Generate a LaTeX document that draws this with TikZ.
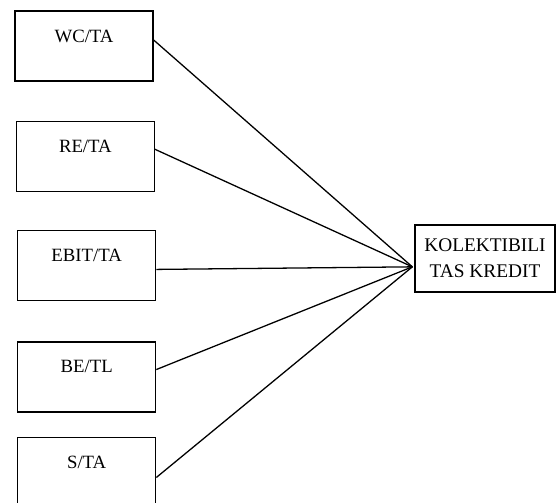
\documentclass[tikz,border=0pt]{standalone}
\usepackage{fontspec}
\setmainfont{Liberation Serif}
\usepackage{tikz}
\usetikzlibrary{calc}
\usetikzlibrary{positioning}
\tikzset{varbox/.style={draw=black, rectangle, color=black, line width=1.1pt, minimum width=4.14cm, inner ysep=0.3cm, text height=0.63cm, text depth=0.87cm, font=\fontsize{16}{18}\selectfont}}
\tikzset{kolbox/.style={draw=black, rectangle, color=black, line width=1.1pt, minimum width=4.2cm, minimum height=2.01cm, align=center, font=\fontsize{16.5}{22}\selectfont}}

\begin{document}
\begin{tikzpicture}[node distance={15mm}, line width=1.1pt]
		\useasboundingbox (0,0) rectangle (16.68,-15.06);
		\node[varbox] (wc) at (2.52,-1.38) {WC/TA};
		\node[varbox] (re) [below=1.17cm of wc, xshift=0.04cm] {RE/TA};
		\node[varbox] (ebit) [below=1.14cm of re, xshift=0.04cm] {EBIT/TA};
		\node[varbox] (be) [below=1.2cm of ebit] {BE/TL};
		\node[varbox] (sta) [below=0.72cm of be] {S/TA};
		\node[kolbox] (kol) at (14.55,-7.755) {KOLEKTIBILI\\TAS KREDIT};
		\coordinate (hub) at ($(kol.west)+(-0.06,-0.25)$);
		
		\begin{scope}
			\draw ($(wc.east)+(0,0.18)$) -- (hub);
			\draw ($(re.east)+(0,0.21)$) -- (hub);
			\draw ($(ebit.east)+(0,-0.115)$) -- (hub);
			\draw ($(be.east)+(0,0.22)$) -- (hub);
			\draw ($(sta.east)+(0,-0.16)$) -- (hub);
		\end{scope}
	\end{tikzpicture}
\end{document}
